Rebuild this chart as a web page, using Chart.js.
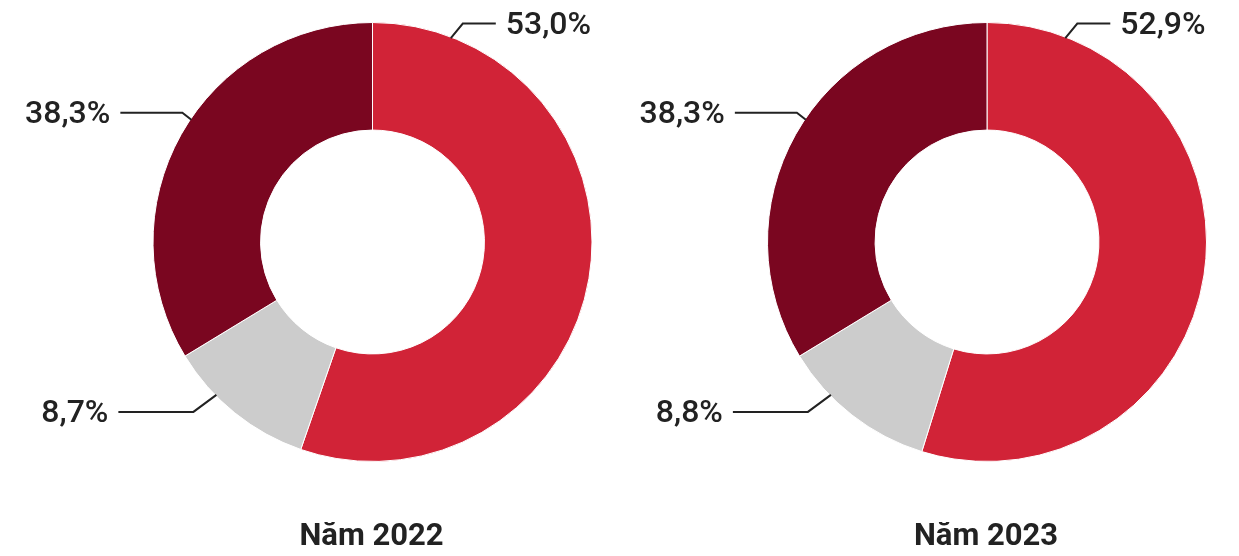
<!DOCTYPE html>
<html>
<head>
<meta charset="utf-8">
<script src="https://cdn.jsdelivr.net/npm/chart.js@4.4.1/dist/chart.umd.min.js"></script>
<style>
  html, body { margin: 0; padding: 0; background: #fff; }
  #wrap { position: relative; width: 1239px; height: 556px; }
  canvas { position: absolute; top: 0; }
</style>
</head>
<body>
<div id="wrap">
  <canvas id="c2022" width="620" height="556" style="left:0"></canvas>
  <canvas id="c2023" width="619" height="556" style="left:620px"></canvas>
</div>
<script>
// values
const years = ['Năm 2022', 'Năm 2023'];
const segments = ['Nhóm 1', 'Nhóm 2', 'Nhóm 3'];
const slices2022 = [55.3, 11.0, 33.7];
const slices2023 = [54.8, 11.5, 33.7];
const labels2022 = ['53,0%', '8,7%', '38,3%'];
const labels2023 = ['52,9%', '8,8%', '38,3%'];
const colors = ['#D12337', '#CCCCCC', '#7A0620'];

// where each leader line touches the ring and how it bends
const leaderLayout = [
  { angle: 21, dx: 12, dy: -14.5, len: 33, side: 1 },
  { angle: 225.6, dx: -23, dy: 17, len: 75, side: -1 },
  { angle: 304, dx: -9, dy: -7, len: 62, side: -1 }
];

const leaderPlugin = {
  id: 'leaders',
  afterDatasetsDraw(chart, args, opts) {
    const ctx = chart.ctx;
    const arc = chart.getDatasetMeta(0).data[0];
    const cx = arc.x, cy = arc.y, r = arc.outerRadius;
    ctx.save();
    ctx.strokeStyle = '#222';
    ctx.lineWidth = 2;
    ctx.fillStyle = '#222';
    ctx.font = '500 32px Roboto, "Noto Sans", sans-serif';
    ctx.textBaseline = 'alphabetic';
    opts.labels.forEach((text, i) => {
      const L = leaderLayout[i];
      const a = (L.angle - 90) * Math.PI / 180;
      const ax = cx + (r - 1) * Math.cos(a);
      const ay = cy + (r - 1) * Math.sin(a);
      const ex = ax + L.dx, ey = ay + L.dy;
      const hx = ex + L.len * L.side;
      ctx.beginPath();
      ctx.moveTo(ax, ay);
      ctx.lineTo(ex, ey);
      ctx.lineTo(hx, ey);
      ctx.stroke();
      ctx.textAlign = L.side > 0 ? 'left' : 'right';
      ctx.fillText(text, hx + 10 * L.side, ey + 10.5);
    });
    ctx.font = 'bold 31px Roboto, "Noto Sans", sans-serif';
    ctx.textAlign = 'center';
    ctx.fillText(opts.title, cx - 1, chart.chartArea.bottom + 83);
    ctx.restore();
  }
};

function makeChart(id, values, labels, title, padLeft) {
  return new Chart(document.getElementById(id), {
    type: 'doughnut',
    data: {
      labels: segments,
      datasets: [{
        data: values,
        backgroundColor: colors,
        borderColor: '#ffffff',
        borderWidth: 1
      }]
    },
    options: {
      responsive: false,
      animation: false,
      cutout: '51%',
      layout: { padding: { left: padLeft, right: 0, top: 22, bottom: 94 } },
      plugins: {
        legend: { display: false },
        tooltip: { enabled: false },
        leaders: { labels: labels, title: title }
      }
    },
    plugins: [leaderPlugin]
  });
}

makeChart('c2022', slices2022, labels2022, years[0], 125);
makeChart('c2023', slices2023, labels2023, years[1], 115);
</script>
</body>
</html>
